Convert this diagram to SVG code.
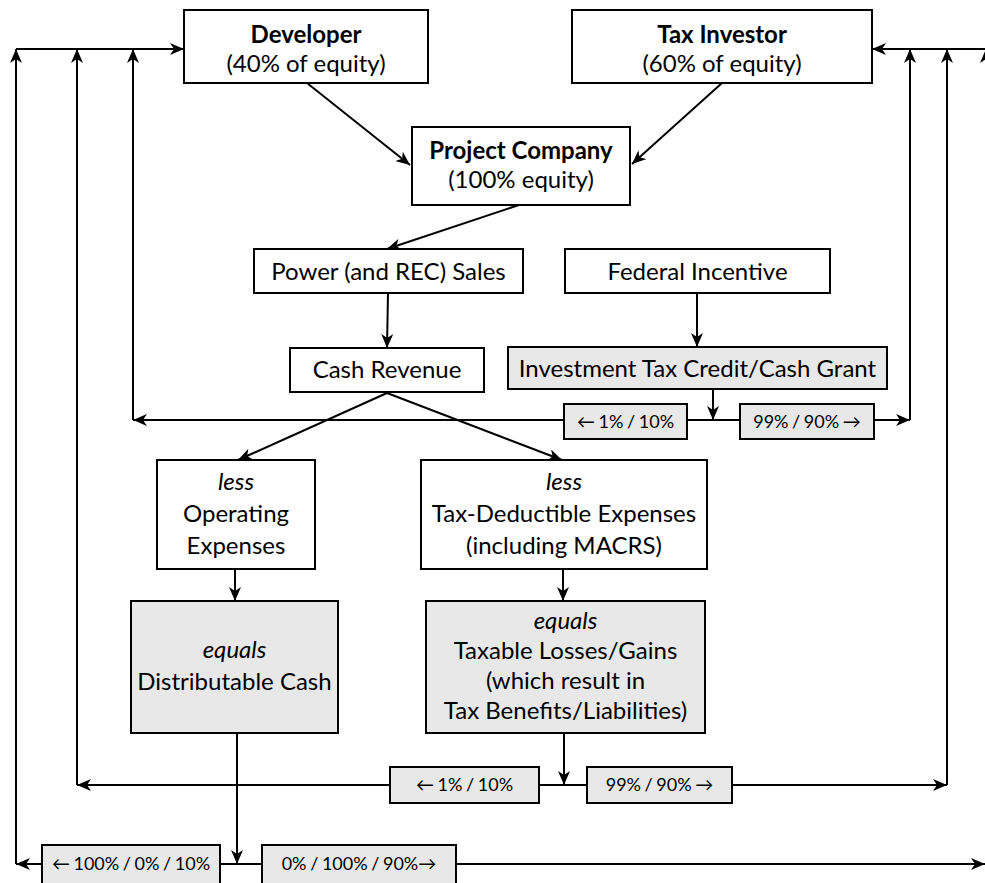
<svg xmlns="http://www.w3.org/2000/svg" width="985" height="883" viewBox="0 0 985 883">
<defs>
<marker id="ah" viewBox="0 0 14 12" refX="14" refY="6" markerWidth="14" markerHeight="12" markerUnits="userSpaceOnUse" orient="auto">
<path d="M0,0 L14,6 L0,12 L4,6 z" fill="#000"/>
</marker>
<style>
.box{fill:#fff;stroke:#000;stroke-width:2}
.gbox{fill:#e8e8e8;stroke:#000;stroke-width:2}
.t{font-family:"Lato","Liberation Sans",sans-serif;font-size:24px;fill:#000;text-anchor:middle}
.b{font-weight:bold}
.i{font-style:italic}
.lt{font-family:"Lato","Liberation Sans",sans-serif;font-size:18px;fill:#000;text-anchor:middle;word-spacing:-1px}
.c{fill:none;stroke:#000;stroke-width:2}
.a{fill:none;stroke:#000;stroke-width:2;marker-end:url(#ah)}
</style>
</defs>
<rect width="985" height="883" fill="#fff"/>
<g id="connectors">
<line class="a" x1="307" y1="83" x2="410" y2="165"/>
<line class="a" x1="722" y1="83" x2="632" y2="164"/>
<line class="a" x1="519" y1="205" x2="387" y2="249"/>
<line class="a" x1="388" y1="293" x2="387" y2="348"/>
<line class="a" x1="697" y1="293" x2="697" y2="347"/>
<line class="a" x1="713" y1="389" x2="713" y2="420"/>
<line class="a" x1="564" y1="420" x2="133" y2="420"/>
<line class="c" x1="687" y1="420" x2="740" y2="420"/>
<line class="a" x1="874" y1="420" x2="910" y2="420"/>
<line class="a" x1="133" y1="420" x2="133" y2="49"/>
<line class="a" x1="910" y1="420" x2="910" y2="49"/>
<line class="a" x1="16" y1="49" x2="184" y2="49"/>
<line class="a" x1="990" y1="49" x2="872" y2="49"/>
<line class="a" x1="387" y1="393" x2="238" y2="460"/>
<line class="a" x1="387" y1="393" x2="562" y2="460"/>
<line class="a" x1="235" y1="569" x2="235" y2="601"/>
<line class="a" x1="563" y1="569" x2="563" y2="601"/>
<line class="a" x1="564" y1="733" x2="564" y2="785"/>
<line class="a" x1="390" y1="785" x2="77" y2="785"/>
<line class="c" x1="539" y1="785" x2="587" y2="785"/>
<line class="a" x1="732" y1="785" x2="947" y2="785"/>
<line class="a" x1="77" y1="785" x2="77" y2="49"/>
<line class="a" x1="947" y1="785" x2="947" y2="49"/>
<line class="a" x1="237" y1="733" x2="237" y2="864"/>
<line class="a" x1="42" y1="864" x2="16" y2="864"/>
<line class="c" x1="220" y1="864" x2="262" y2="864"/>
<line class="a" x1="456" y1="864" x2="985" y2="864"/>
<line class="a" x1="16" y1="864" x2="16" y2="49"/>
<line class="a" x1="986" y1="864" x2="986" y2="49"/>
</g>
<g id="developer">
<rect class="box" x="184" y="10" width="244" height="73"/>
<text class="t b" x="306" y="43">Developer</text>
<text class="t" x="306" y="72">(40% of equity)</text>
</g>
<g id="tax-investor">
<rect class="box" x="572" y="10" width="300" height="73"/>
<text class="t b" x="722" y="43">Tax Investor</text>
<text class="t" x="722" y="72">(60% of equity)</text>
</g>
<g id="project-company">
<rect class="box" x="412" y="127" width="218" height="78"/>
<text class="t b" x="521" y="159">Project Company</text>
<text class="t" x="521" y="188">(100% equity)</text>
</g>
<g id="power-sales">
<rect class="box" x="254" y="249" width="269" height="44"/>
<text class="t" x="388.5" y="280">Power (and REC) Sales</text>
</g>
<g id="federal-incentive">
<rect class="box" x="565" y="249" width="265" height="44"/>
<text class="t" x="697.5" y="280">Federal Incentive</text>
</g>
<g id="cash-revenue">
<rect class="box" x="290" y="348" width="194" height="44"/>
<text class="t" x="387" y="378">Cash Revenue</text>
</g>
<g id="itc">
<rect class="gbox" x="508" y="347" width="379" height="42"/>
<text class="t" x="697.5" y="377">Investment Tax Credit/Cash Grant</text>
</g>
<g id="itc-split-left">
<rect class="gbox" x="564" y="404" width="123" height="35"/>
<text class="lt" x="625.5" y="428">← 1% / 10%</text>
</g>
<g id="itc-split-right">
<rect class="gbox" x="740" y="404" width="134" height="35"/>
<text class="lt" x="807" y="428">99% / 90% →</text>
</g>
<g id="operating-expenses">
<rect class="box" x="157" y="460" width="158" height="109"/>
<text class="t i" x="236" y="490">less</text>
<text class="t" x="236" y="522">Operating</text>
<text class="t" x="236" y="554">Expenses</text>
</g>
<g id="tax-deductible">
<rect class="box" x="421" y="460" width="286" height="109"/>
<text class="t i" x="564" y="490">less</text>
<text class="t" x="564" y="522">Tax-Deductible Expenses</text>
<text class="t" x="564" y="554">(including MACRS)</text>
</g>
<g id="distributable-cash">
<rect class="gbox" x="131" y="601" width="207" height="132"/>
<text class="t i" x="234.5" y="658">equals</text>
<text class="t" x="234.5" y="690">Distributable Cash</text>
</g>
<g id="taxable">
<rect class="gbox" x="426" y="601" width="279" height="132"/>
<text class="t i" x="565.5" y="629">equals</text>
<text class="t" x="565.5" y="659">Taxable Losses/Gains</text>
<text class="t" x="565.5" y="689">(which result in</text>
<text class="t" x="565.5" y="719">Tax Benefits/Liabilities)</text>
</g>
<g id="tax-split-left">
<rect class="gbox" x="390" y="767" width="149" height="36"/>
<text class="lt" x="464.5" y="791">← 1% / 10%</text>
</g>
<g id="tax-split-right">
<rect class="gbox" x="587" y="767" width="145" height="36"/>
<text class="lt" x="659.5" y="791">99% / 90% →</text>
</g>
<g id="cash-split-left">
<rect class="gbox" x="42" y="845" width="178" height="45"/>
<text class="lt" x="131" y="870">← 100% / 0% / 10%</text>
</g>
<g id="cash-split-right">
<rect class="gbox" x="262" y="845" width="194" height="45"/>
<text class="lt" x="359" y="870">0% / 100% / 90%→</text>
</g>
</svg>
